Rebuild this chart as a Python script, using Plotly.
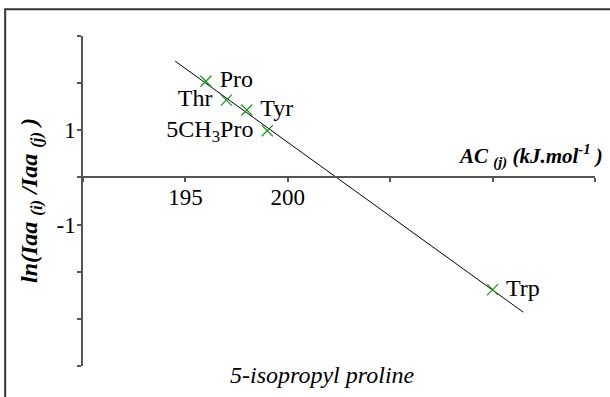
import numpy as np
import plotly.graph_objects as go

# data
amino = ["Pro", "Thr", "Tyr", "5CH<sub>3</sub>Pro", "Trp"]
ac_j = [196.0, 197.0, 198.0, 199.0, 210.0]
ln_ratio = [2.04, 1.64, 1.43, 0.99, -2.38]
label_side = ["middle right", "middle left", "middle right", "middle left", "middle right"]
fit_x = [194.5, 211.5]

x_labeled = [195, 200]
x_ticktext = ["195", "200"]
x_ticks = [190, 195, 200, 205, 210, 215]
y_labeled = [-1, 1]
y_ticktext = ["-1", "1"]
y_ticks = [-4, -3, -2, -1, 0, 1, 2, 3]

serif = "Liberation Serif"
axcol = "#555555"

slope, icpt = np.polyfit(ac_j, ln_ratio, 1)
fit_y = [slope * v + icpt for v in fit_x]

fig = go.Figure()
fig.add_trace(go.Scatter(x=fit_x, y=fit_y, mode="lines",
                         line=dict(color="black", width=1), showlegend=False,
                         hoverinfo="skip"))
fig.add_trace(go.Scatter(x=ac_j, y=ln_ratio, mode="markers+text",
                         text=[a + " " if s == "middle left" else " " + a
                               for a, s in zip(amino, label_side)],
                         textposition=label_side,
                         textfont=dict(family=serif, size=24, color="black"),
                         marker=dict(symbol="x-thin", size=11,
                                     line=dict(color="#1a951a", width=1.2)),
                         showlegend=False))

tick_style = dict(ticks="outside", ticklen=4, tickcolor=axcol, tickwidth=1.5)

fig.update_xaxes(range=[190, 215], tickmode="array", tickvals=x_labeled,
                 ticktext=x_ticktext,
                 minor=dict(tickmode="array", tickvals=x_ticks, **tick_style),
                 showline=True, linecolor=axcol, linewidth=1.5, **tick_style,
                 anchor="free", position=4 / 7, showgrid=False, zeroline=False,
                 automargin=False, ticklabelstandoff=-5,
                 tickfont=dict(family=serif, size=23, color="black"))
fig.update_yaxes(range=[-4, 3], tickmode="array", tickvals=y_labeled,
                 ticktext=y_ticktext,
                 minor=dict(tickmode="array", tickvals=y_ticks, **tick_style),
                 showline=True, linecolor=axcol, linewidth=1.5, **tick_style,
                 showgrid=False, zeroline=False, automargin=False,
                 ticklabelstandoff=-3,
                 tickfont=dict(family=serif, size=23, color="black"))

fig.add_annotation(text="<b><i>ln(Iaa <sub>(i)</sub> /Iaa <sub>(j)</sub> )</i></b>",
                   xref="paper", yref="paper", x=-0.1015, y=0.5, textangle=-90,
                   showarrow=False, xanchor="center", yanchor="middle",
                   font=dict(family=serif, size=24, color="black"))
fig.add_annotation(text="<b><i>AC <sub>(j)</sub> (kJ.mol<sup>-1</sup> )</i></b>",
                   xref="paper", yref="paper", x=1.02, y=0.635,
                   showarrow=False, xanchor="right", yanchor="middle",
                   font=dict(family=serif, size=21, color="black"))
fig.add_annotation(text="<i>5-isopropyl proline</i>",
                   xref="paper", yref="paper", x=0.468, y=-0.028,
                   showarrow=False, xanchor="center", yanchor="middle",
                   font=dict(family=serif, size=24, color="black"))

# frame around the whole picture (right/bottom edges fall outside)
fig.add_shape(type="rect", xref="paper", yref="paper",
              x0=-0.152, x1=1.05, y0=-0.12, y1=1.081,
              line=dict(color="#333333", width=2))

fig.update_layout(width=610, height=397,
                  margin=dict(l=83, r=15, t=36, b=31),
                  plot_bgcolor="white", paper_bgcolor="white")

fig.write_html("out.html", config={"displayModeBar": False},
               post_script="document.body.style.margin='0';")
